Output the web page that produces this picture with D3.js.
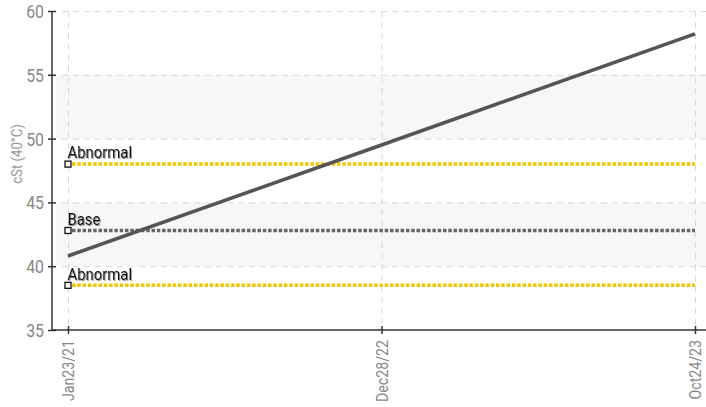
<!DOCTYPE html>
<html><head><meta charset="utf-8">
<script src="https://cdn.jsdelivr.net/npm/d3@7"></script>
<style>
html,body{margin:0;padding:0;background:#fff;}
svg text{font-family:"Roboto","Liberation Sans",sans-serif;}
</style></head><body>
<svg id="c" width="706" height="407"></svg>
<script>
const categories = ["Jan23/21","Dec28/22","Oct24/23"];
const trendValues = [40.8, 49.5, 58.2];
const yTicks = [35,40,45,50,55,60];
const refNames = ["Abnormal","Base","Abnormal"];
const refValues = [48.0, 42.8, 38.5];
const refColors = ["#f5c400","#666666","#f5c400"];
const bands = [[50,55],[40,45]];
const yLabel = "cSt (40°C)";

(function(){
const svg = d3.select("#c");
const W = 706, H = 407;
const axX = 52, plotTop = 11, plotBottom = 330;
const sx = 0.86;
const x = d3.scalePoint().domain(categories).range([68, 695]);
const y = d3.scaleLinear().domain([35,60]).range([plotBottom, plotTop]);

const defs = svg.append("defs");
const f = defs.append("filter").attr("id","ts").attr("x","-10%").attr("y","-30%").attr("width","130%").attr("height","160%");
f.append("feDropShadow").attr("dx",1).attr("dy",1).attr("stdDeviation",0.6)
  .attr("flood-color","#777").attr("flood-opacity",0.8);

// bands
svg.selectAll("rect.band").data(bands).enter().append("rect")
  .attr("x", axX+4).attr("width", W-axX-4)
  .attr("y", d=>y(d[1])).attr("height", d=>y(d[0])-y(d[1]))
  .attr("fill","#f7f7f7");

// grid
svg.selectAll("line.hg").data(yTicks.filter(t=>t>35)).enter().append("line")
  .attr("x1", axX+10).attr("x2", W).attr("y1", d=>y(d)+0.5).attr("y2", d=>y(d)+0.5)
  .attr("stroke","#d8d8d8").attr("stroke-width",1).attr("stroke-dasharray","6,5");
svg.selectAll("line.vg").data(categories).enter().append("line")
  .attr("x1", d=>x(d)+0.5).attr("x2", d=>x(d)+0.5).attr("y1", plotTop).attr("y2", plotBottom)
  .attr("stroke","#d8d8d8").attr("stroke-width",1).attr("stroke-dasharray","6,5");

// axes
const yAxis = d3.axisLeft(y).tickValues(yTicks).tickSize(4).tickPadding(6);
const gy = svg.append("g").attr("transform",`translate(${axX},0)`).call(yAxis);
gy.select(".domain").remove();
gy.selectAll(".tick line").attr("x2",4).attr("x1",-4).attr("stroke","#333").attr("stroke-width",1.5);
gy.selectAll(".tick text").attr("x",-8/0.88).attr("transform","scale(0.88,1)")
  .attr("fill","#888").style("font-size","18px").attr("dy","0.36em");

const xAxis = d3.axisBottom(x).tickSize(4);
const gx = svg.append("g").attr("transform",`translate(0,${plotBottom})`).call(xAxis);
gx.select(".domain").remove();
gx.selectAll(".tick line").attr("y1",-4).attr("y2",4).attr("stroke","#333").attr("stroke-width",1.5);
gx.selectAll(".tick text").attr("fill","#888").style("font-size","16.5px")
  .attr("text-anchor","end").attr("transform",`rotate(-90) scale(${sx},1)`)
  .attr("x",-10/sx).attr("y",0).attr("dy","0.36em");

svg.append("line").attr("x1",axX).attr("x2",axX).attr("y1",plotTop).attr("y2",plotBottom)
  .attr("stroke","#333").attr("stroke-width",1.5);
svg.append("line").attr("x1",axX).attr("x2",W).attr("y1",plotBottom).attr("y2",plotBottom)
  .attr("stroke","#333").attr("stroke-width",1.5);

// y label
svg.append("text").attr("transform","translate(22,154) rotate(-90) scale(0.88,1)")
  .attr("text-anchor","middle").attr("fill","#999").style("font-size","15px").text(yLabel);

// reference lines
const refs = refValues.map((v,i)=>({v, name:refNames[i], color:refColors[i]}));
svg.selectAll("line.ref").data(refs).enter().append("line")
  .attr("x1", x(categories[0])+4).attr("x2", x(categories[categories.length-1]))
  .attr("y1", d=>y(d.v)).attr("y2", d=>y(d.v))
  .attr("stroke", d=>d.color).attr("stroke-width",3.5).attr("stroke-dasharray","3.5,1.8");

// trend line
svg.append("path").datum(trendValues)
  .attr("d", d3.line().x((d,i)=>x(categories[i])).y(d=>y(d)))
  .attr("fill","none").attr("stroke","#555").attr("stroke-width",3.5);

// markers and labels
svg.selectAll("rect.mk").data(refs).enter().append("rect")
  .attr("x", x(categories[0])-3).attr("y", d=>y(d.v)-3).attr("width",6).attr("height",6)
  .attr("fill","#fff").attr("stroke","#111").attr("stroke-width",1.3);
const ls = 0.93;
svg.selectAll("text.lb").data(refs).enter().append("text")
  .attr("transform", d=>`translate(${x(categories[0])-0.5},${y(d.v)-5.8}) scale(${ls},1)`)
  .attr("fill","#111").attr("filter","url(#ts)").style("font-size","16px").text(d=>d.name);
})();
</script></body></html>
